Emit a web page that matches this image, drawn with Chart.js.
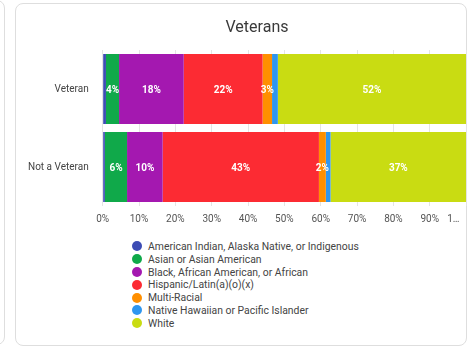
<!DOCTYPE html>
<html>
<head>
<meta charset="utf-8">
<script src="https://cdn.jsdelivr.net/npm/chart.js@4.4.1/dist/chart.umd.min.js"></script>
<style>
    html, body { margin: 0; padding: 0; background: #fff; width: 467px; height: 347px; overflow: hidden; font-family: Roboto, sans-serif; }
    .prev-card { position: absolute; left: -12px; top: 0; width: 17px; height: 345px; border: 1px solid #dedede; border-radius: 8px; box-sizing: border-box; }
    .card { position: absolute; left: 15px; top: 3px; width: 452px; height: 343px; border: 1px solid #dedede; border-radius: 8px; box-sizing: border-box; }
    .chart-box { position: absolute; left: 21.5px; top: 4px; width: 470px; height: 228px; }
    #legend { position: absolute; left: 132px; top: 240px; margin: 0; padding: 0; list-style: none; font-size: 10.4px; color: #444; }
    #legend li { height: 12.8px; display: flex; align-items: center; white-space: nowrap; }
    #legend .dot { width: 10px; height: 10px; border-radius: 50%; margin-right: 6px; flex: none; }
</style>
</head>
<body>
<div class="prev-card"></div>
<div class="card"></div>
<div class="chart-box"><canvas id="veteransChart"></canvas></div>
<ul id="legend"></ul>
<script>
    const categories = ['Veteran', 'Not a Veteran'];
    const groupNames = [
        'American Indian, Alaska Native, or Indigenous',
        'Asian or Asian American',
        'Black, African American, or African',
        'Hispanic/Latin(a)(o)(x)',
        'Multi-Racial',
        'Native Hawaiian or Pacific Islander',
        'White',
    ];
    const groupColors = ['#3d4cb4', '#10a94a', '#a418b0', '#fc2b33', '#ff8f00', '#2f96ef', '#c9dc12'];

    // percent of each category, one array per group
    const americanIndian = [0.9, 0.6];
    const asian = [3.6, 6.1];
    const black = [17.8, 9.8];
    const hispanic = [21.7, 43.0];
    const multiRacial = [2.6, 1.9];
    const pacificIslander = [1.6, 1.3];
    const white = [51.8, 37.3];

    const xTicks = [0, 10, 20, 30, 40, 50, 60, 70, 80, 90, 100];

    const seriesValues = [americanIndian, asian, black, hispanic, multiRacial, pacificIslander, white];

    const segmentLabels = {
        id: 'segmentLabels',
        afterDatasetsDraw(chart) {
            const ctx = chart.ctx;
            ctx.save();
            ctx.font = 'bold 10px Roboto, sans-serif';
            ctx.fillStyle = '#ffffff';
            ctx.textAlign = 'center';
            ctx.textBaseline = 'middle';
            chart.data.datasets.forEach((ds, i) => {
                chart.getDatasetMeta(i).data.forEach((bar, j) => {
                    const v = ds.data[j];
                    if (v < 1.8) return;
                    const p = bar.getCenterPoint();
                    ctx.fillText(Math.round(v) + '%', p.x, p.y + 1);
                });
            });
            ctx.restore();
        },
    };

    const chart = new Chart(document.getElementById('veteransChart'), {
        type: 'bar',
        data: {
            labels: categories,
            datasets: groupNames.map((name, i) => ({
                label: name,
                data: seriesValues[i],
                backgroundColor: groupColors[i],
                borderWidth: 0,
                categoryPercentage: 0.9,
                barPercentage: 1.0,
            })),
        },
        options: {
            indexAxis: 'y',
            responsive: true,
            maintainAspectRatio: false,
            animation: false,
            layout: { padding: 0 },
            plugins: {
                legend: { display: false },
                tooltip: { enabled: false },
                title: {
                    display: true,
                    text: 'Veterans',
                    color: '#3a3a3a',
                    font: { family: 'Roboto, sans-serif', size: 16, weight: 'normal' },
                    padding: { top: 14, bottom: 12.8 },
                },
            },
            scales: {
                x: {
                    stacked: true,
                    min: 0,
                    max: 100,
                    afterBuildTicks: (scale) => { scale.ticks = xTicks.map((v) => ({ value: v })); },
                    grid: { color: '#e4e4e4', drawTicks: false },
                    border: { display: false },
                    ticks: {
                        color: '#555',
                        padding: 7,
                        maxRotation: 0,
                        autoSkip: false,
                        font: { family: 'Roboto, sans-serif', size: 10 },
                        callback: (v) => (v === 100 ? '1\u2026\u2003\u2003\u2002' : v + '%'),
                    },
                },
                y: {
                    stacked: true,
                    grid: { display: false },
                    border: { display: false },
                    ticks: {
                        color: '#444',
                        padding: 6,
                        font: { family: 'Roboto, sans-serif', size: 10 },
                    },
                },
            },
        },
        plugins: [segmentLabels],
    });

    const legend = document.getElementById('legend');
    chart.data.datasets.forEach((ds) => {
        const li = document.createElement('li');
        li.innerHTML = `<span class="dot" style="background:${ds.backgroundColor}"></span><span>${ds.label}</span>`;
        legend.appendChild(li);
    });
</script>
</body>
</html>
